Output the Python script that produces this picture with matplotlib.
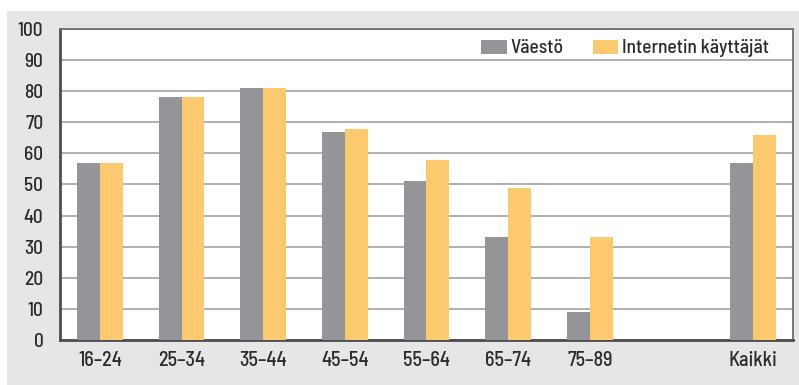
import numpy as np
import matplotlib.pyplot as plt
from matplotlib.patches import Rectangle

plt.rcParams['font.family'] = ['Barlow Semi Condensed', 'DejaVu Sans']
plt.rcParams['font.weight'] = 500

# data
groups = ['16–24', '25–34', '35–44', '45–54', '55–64', '65–74', '75–89', 'Kaikki']
vaesto = [57, 78, 81, 67, 51, 33, 9, 57]
kayttajat = [57, 78, 81, 68, 58, 49, 33, 66]
yticks = [0, 10, 20, 30, 40, 50, 60, 70, 80, 90, 100]

GRAY = '#939598'
YELLOW = '#fdc96e'
TEXT = '#2b2b2b'

# one empty slot before "Kaikki"
pos = np.array([0, 1, 2, 3, 4, 5, 6, 8])
w = 0.28

fig = plt.figure(figsize=(7.99, 3.85), dpi=100)
fig.patch.set_facecolor('white')
# grey panel behind the chart
fig.add_artist(Rectangle((7 / 799, 0), 1, (385 - 11) / 385,
                         transform=fig.transFigure, facecolor='#e6e6e6',
                         edgecolor='none', zorder=-10))

ax = fig.add_axes([60 / 799, 45 / 385, 733 / 799, 311 / 385])
ax.set_zorder(5)
ax.set_facecolor('white')

ax.bar(pos - w / 2, vaesto, width=w, color=GRAY, label='Väestö', zorder=3)
ax.bar(pos + w / 2, kayttajat, width=w, color=YELLOW, label='Internetin käyttäjät', zorder=3)

ax.set_xlim(-0.49, 8.49)
ax.set_ylim(0, 100)
ax.set_yticks(yticks)
ax.set_xticks(pos)
ax.set_xticklabels(groups)
ax.yaxis.grid(True, color='#a7a9ac', linewidth=1.3, zorder=1)
ax.set_axisbelow(True)
ax.tick_params(axis='both', length=0, labelcolor=TEXT)
ax.tick_params(axis='y', pad=12, labelsize=14)
ax.tick_params(axis='x', pad=8, labelsize=14.5)

for side in ['left', 'bottom']:
    ax.spines[side].set_color('#4d4d4f')
    ax.spines[side].set_linewidth(2)
for side in ['top', 'right']:
    ax.spines[side].set_color('#6d6e71')
    ax.spines[side].set_linewidth(1.3)

ax.legend(loc='upper right', ncol=2, frameon=False, fontsize=14,
          handlelength=1.3, handleheight=0.75, handletextpad=0.2,
          columnspacing=1.5, borderaxespad=0.2, borderpad=0.1,
          labelcolor=TEXT, bbox_to_anchor=(0.975, 0.985))

fig.savefig('out.png', dpi=100)
